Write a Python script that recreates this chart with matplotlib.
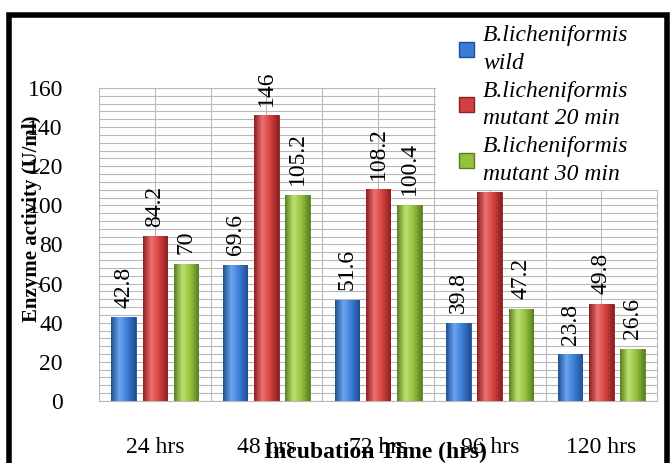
import numpy as np
import matplotlib.pyplot as plt
from matplotlib.colors import LinearSegmentedColormap
from matplotlib.patches import Rectangle

categories = ['24 hrs', '48 hrs', '72 hrs', '96 hrs', '120 hrs']
wild = [42.8, 69.6, 51.6, 39.8, 23.8]
mutant20 = [84.2, 146, 108.2, 106.8, 49.8]
mutant30 = [70, 105.2, 100.4, 47.2, 26.6]
series_names = ['B.licheniformis\nwild',
                'B.licheniformis\nmutant 20 min',
                'B.licheniformis\nmutant 30 min']

colors = ['#3a7bd5', '#d43f3f', '#93c13e']
dark = ['#1f4f94', '#8c2020', '#5a7f1e']
light = ['#6aa6ee', '#ec7070', '#bde070']

plt.rcParams['font.family'] = ['Liberation Serif', 'DejaVu Serif']

fig = plt.figure(figsize=(6.7, 4.63), dpi=100)
ax = fig.add_axes([0.1478, 0.134, 0.833, 0.676])

x = np.arange(len(categories))
step = 0.28
width = 0.22
for i, vals in enumerate([wild, mutant20, mutant30]):
    bars = ax.bar(x + (i - 1) * step, vals, width, color=colors[i],
                  edgecolor=dark[i], linewidth=0.6, zorder=3)
    cmap = LinearSegmentedColormap.from_list('g', [dark[i], light[i], colors[i], dark[i]])
    grad = np.linspace(0, 1, 64).reshape(1, -1)
    for b in bars:
        bx, by = b.get_x(), b.get_y()
        im = ax.imshow(grad, extent=(bx, bx + b.get_width(), by, by + b.get_height()),
                       cmap=cmap, aspect='auto', zorder=3.5)
        im.set_clip_path(b)
    for xi, v in zip(x + (i - 1) * step, vals):
        ax.annotate(f'{v:g}', (xi, v), xytext=(0, 7), textcoords='offset points',
                    rotation=90, ha='center', va='bottom', fontsize=17, zorder=4)

ax.set_xlim(-0.5, len(categories) - 0.5)
ax.set_ylim(0, 160)
ax.set_yticks(np.arange(0, 161, 20))
ax.set_yticks(np.arange(0, 161, 4), minor=True)
ax.set_xticks(x)
ax.set_xticks(np.arange(0.5, len(categories) - 1, 1), minor=True)
ax.set_xticklabels(categories, fontsize=17)
ax.tick_params(axis='y', labelsize=17, length=0, pad=26, which='both')
ax.tick_params(axis='x', length=0, pad=26, which='both')
ax.grid(True, which='both', color='#b8b8b8', linewidth=0.8, zorder=0)
ax.set_axisbelow(True)
for s in ax.spines.values():
    s.set_color('#b8b8b8')

fig.text(0.048, 0.527, 'Enzyme activity (U/ml)', rotation=90, ha='center',
         va='center', fontsize=15, fontweight='bold')
fig.text(0.56, 0.022, 'Incubation Time (hrs)', ha='center', va='center',
         fontsize=17, fontweight='bold')

# white box behind legend (hides part of the grid as in the original)
fig.patches.append(Rectangle((436 / 670, 1 - 190 / 463), 232 / 670, 175 / 463,
                             transform=fig.transFigure, facecolor='white',
                             edgecolor='none', zorder=5))
handles = [Rectangle((0, 0), 1, 1, facecolor=c, edgecolor=d) for c, d in zip(colors, dark)]
leg = fig.legend(handles, series_names, loc='upper left',
                 bbox_to_anchor=(450 / 670, 1 - 16 / 463), frameon=False,
                 prop={'style': 'italic', 'size': 17}, labelspacing=0.3,
                 handlelength=0.6, handleheight=0.6, handletextpad=0.4,
                 borderaxespad=0)
leg.set_zorder(6)
for t in leg.get_texts():
    t.set_linespacing(1.4)

# outer black frame
fig.patches.append(Rectangle((9 / 670, -0.1), 658 / 670, 1.1 - 15 / 463,
                             transform=fig.transFigure, fill=False,
                             edgecolor='black', linewidth=4, zorder=7))

fig.savefig('out.png', dpi=100)
